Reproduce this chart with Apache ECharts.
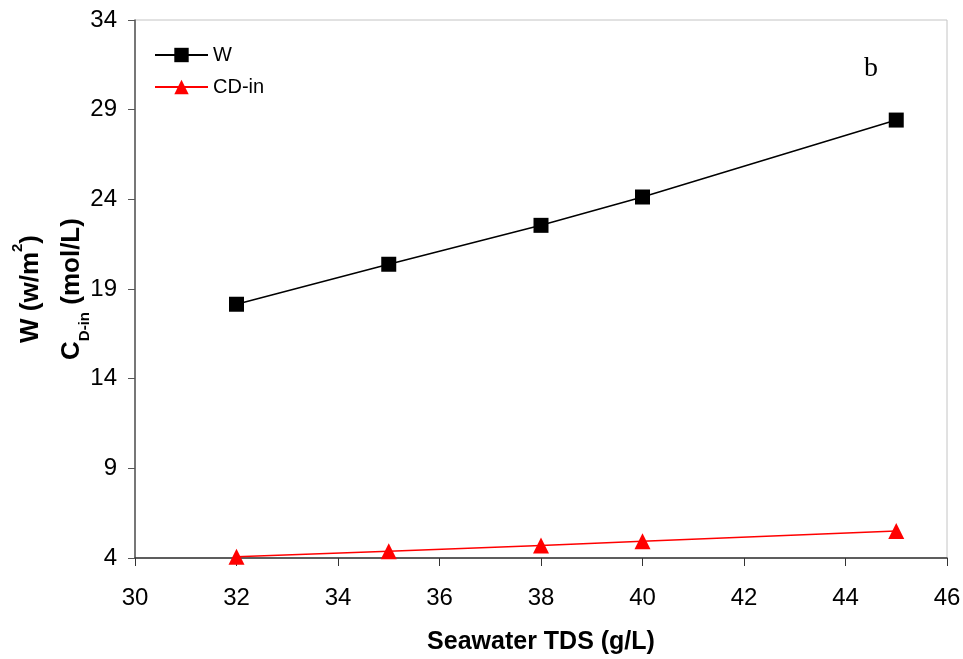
<!DOCTYPE html>
<html>
<head>
<meta charset="utf-8">
<title>W / CD-in vs Seawater TDS</title>
<script src="https://cdn.jsdelivr.net/npm/echarts@6/dist/echarts.min.js"></script>
<style>
  html,body{margin:0;padding:0;background:#fff;}
  #chart{width:963px;height:659px;}
</style>
</head>
<body>
<div id="chart"></div>
<script>
// values
let tds = [32, 35, 38, 40, 45]
let wValues = [18.15, 20.38, 22.55, 24.13, 28.42]
let cdValues = [4.07, 4.38, 4.70, 4.93, 5.50]
let xTicks = [30, 32, 34, 36, 38, 40, 42, 44, 46]
let yTicks = [4, 9, 14, 19, 24, 29, 34]

function pairs(xs, ys){
  return xs.map((x, i) => [x, ys[i]])
}

let myChart = echarts.init(document.getElementById("chart"))
myChart.setOption({
  animation:false,
  textStyle:{
    fontFamily:"Liberation Sans, Arial, sans-serif",
  },
  grid:{
    left:135,
    right:16,
    top:20,
    bottom:101,
    outerBoundsMode:"none",
    containLabel:false,
    show:true,
    borderColor:"#c4c4c4",
    borderWidth:1,
  },
  legend:{
    orient:"vertical",
    left:149,
    top:40,
    itemWidth:53,
    itemHeight:18,
    itemGap:12,
    textStyle:{
      fontSize:20,
      color:"#000",
    },
    data:["W", "CD-in"],
  },
  graphic:[
    {
      type:"text",
      left:864,
      top:55,
      style:{
        text:"b",
        font:"28px Liberation Serif, Times New Roman, serif",
        fill:"#000",
      },
    },
  ],
  xAxis:{
    type:"value",
    min:xTicks[0],
    max:xTicks[xTicks.length - 1],
    interval:2,
    name:"Seawater TDS (g/L)",
    nameLocation:"middle",
    nameGap:72,
    nameTextStyle:{
      fontSize:25,
      fontWeight:"bold",
      color:"#000",
    },
    splitLine:{show:false},
    axisLine:{
      lineStyle:{color:"#333", width:1.5},
    },
    axisTick:{
      length:8,
      lineStyle:{color:"#333"},
    },
    axisLabel:{
      fontSize:24,
      color:"#000",
      margin:28,
    },
  },
  yAxis:{
    type:"value",
    min:yTicks[0],
    max:yTicks[yTicks.length - 1],
    interval:5,
    name:"{b|W (w/m}{sup|2}{b|)}\n{b|C}{sub|D-in}{b| (mol/L)}",
    nameLocation:"middle",
    nameGap:43,
    nameMoveOverlap:false,
    nameTextStyle:{
      color:"#000",
      rich:{
        b:{fontSize:26, fontWeight:"bold", color:"#000", lineHeight:41},
        sup:{fontSize:15, fontWeight:"bold", color:"#000", verticalAlign:"top", lineHeight:41},
        sub:{fontSize:15, fontWeight:"bold", color:"#000", verticalAlign:"bottom", lineHeight:30},
      },
    },
    splitLine:{show:false},
    axisLine:{
      show:true,
      lineStyle:{color:"#555", width:1.5},
    },
    axisTick:{
      show:true,
      length:7,
      lineStyle:{color:"#555"},
    },
    axisLabel:{
      fontSize:24,
      color:"#000",
      margin:18,
    },
  },
  series:[
    {
      name:"W",
      type:"line",
      data:pairs(tds, wValues),
      symbol:"rect",
      symbolSize:15,
      itemStyle:{color:"#000"},
      lineStyle:{color:"#000", width:1.5},
      z:3,
    },
    {
      name:"CD-in",
      type:"line",
      data:pairs(tds, cdValues),
      symbol:"triangle",
      symbolSize:[16, 16],
      itemStyle:{color:"#ff0000"},
      lineStyle:{color:"#ff0000", width:1.5},
      z:2,
    },
  ],
})
</script>
</body>
</html>
